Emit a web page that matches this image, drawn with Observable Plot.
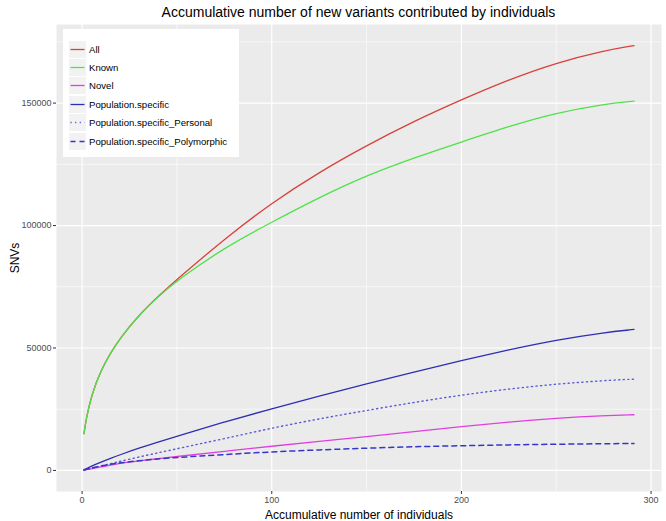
<!DOCTYPE html>
<html>
<head>
<meta charset="utf-8">
<script src="https://cdn.jsdelivr.net/npm/d3@7"></script>
<script src="https://cdn.jsdelivr.net/npm/@observablehq/plot@0.6"></script>
<style>
  body { margin: 0; background: #fff; font-family: "Liberation Sans", Arial, sans-serif; }
  #wrap { position: relative; width: 666px; height: 521px; }
  #title { position: absolute; left: 56px; width: 605px; top: 4px; text-align: center; font-size: 14px; color: #000; }
  #chart { position: absolute; left: 0; top: 24px; }
  #legend { position: absolute; left: 63px; top: 29px; width: 176px; height: 128px; background: #fff; box-sizing: border-box; padding-top: 11px; padding-left: 6px; }
  .row { height: 18.4px; display: flex; align-items: center; font-size: 9.6px; color: #000; }
  .row svg { margin-right: 3px; background: #f2f2f2; }
</style>
</head>
<body>
<div id="wrap">
  <div id="title">Accumulative number of new variants contributed by individuals</div>
  <div id="chart"></div>
  <div id="legend"></div>
</div>
<script>
const individuals    = [1, 2, 5, 10, 15, 20, 30, 40, 50, 75, 100, 125, 150, 175, 200, 225, 250, 275, 291];
const allSNV         = [15000, 20500, 31000, 41000, 48000, 54000, 63500, 71000, 78000, 94500, 109300, 121800, 132700, 142600, 151400, 159600, 166500, 171400, 173500];
const knownSNV       = [15000, 20500, 31000, 41000, 48000, 54000, 63500, 70900, 77500, 91000, 101400, 111500, 120500, 127700, 134100, 140500, 146000, 149600, 150800];
const novelSNV       = [150, 300, 700, 1400, 2200, 2900, 3900, 4800, 5700, 7800, 9900, 11900, 13800, 15900, 17900, 19800, 21300, 22400, 22750];
const popSpecific    = [300, 600, 1800, 3400, 4950, 6400, 9100, 11600, 14000, 19800, 25200, 30400, 35400, 40200, 44900, 49300, 53300, 56300, 57570];
const popPersonal    = [100, 250, 900, 1800, 2750, 3700, 5500, 7200, 8850, 13000, 17300, 21100, 24500, 27800, 30800, 33300, 35300, 36700, 37300];
const popPolymorphic = [200, 400, 1000, 1900, 2550, 3100, 4000, 4700, 5300, 6500, 7600, 8400, 9100, 9700, 10100, 10450, 10700, 10900, 11030];

const seriesNames = ["All", "Known", "Novel", "Population.specific", "Population.specific_Personal", "Population.specific_Polymorphic"];
const seriesValues = [allSNV, knownSNV, novelSNV, popSpecific, popPersonal, popPolymorphic];
const seriesColors = ["#d9413c", "#4ee24a", "#e03fe0", "#2e2eb5", "#5b5bd6", "#3636c9"];
const seriesDash = [null, null, null, null, "1.2,3.4", "5,4"];
const seriesWidth = [1.3, 1.3, 1.3, 1.3, 1.4, 1.5];

const xMajor = [0, 100, 200, 300];
const xMinor = [50, 150, 250];
const yMajor = [0, 50000, 100000, 150000];
const yMinor = [25000, 75000, 125000, 175000];

const rows = [];
seriesNames.forEach((name, si) => {
  individuals.forEach((x, i) => rows.push({series: name, x, y: seriesValues[si][i]}));
});

const lineMarks = seriesNames.map((name, si) =>
  Plot.line(rows.filter(d => d.series === name), {
    x: "x", y: "y", curve: "basis",
    stroke: seriesColors[si], strokeWidth: seriesWidth[si],
    strokeDasharray: seriesDash[si] || undefined
  })
);

const chart = Plot.plot({
  width: 666,
  height: 497,
  marginLeft: 56,
  marginRight: 5,
  marginTop: 0,
  marginBottom: 30,
  style: { fontFamily: "Liberation Sans, Arial, sans-serif", fontSize: "9px", background: "transparent" },
  x: { domain: [-13.5, 305.5] },
  y: { domain: [-8600, 182100] },
  marks: [
    Plot.frame({ fill: "#ebebeb", stroke: null }),
    Plot.gridX(xMinor, { stroke: "#fff", strokeOpacity: 1, strokeWidth: 0.6 }),
    Plot.gridY(yMinor, { stroke: "#fff", strokeOpacity: 1, strokeWidth: 0.6 }),
    Plot.gridX(xMajor, { stroke: "#fff", strokeOpacity: 1, strokeWidth: 1.2 }),
    Plot.gridY(yMajor, { stroke: "#fff", strokeOpacity: 1, strokeWidth: 1.2 }),
    ...lineMarks,
    Plot.axisX(xMajor, { tickSize: 3, tickPadding: 2, stroke: "#333", color: "#4d4d4d", fontSize: 9,
      label: "Accumulative number of individuals", labelAnchor: "center", labelArrow: "none", labelOffset: 27 }),
    Plot.axisY(yMajor, { tickSize: 3, tickPadding: 2, stroke: "#333", color: "#4d4d4d", fontSize: 9, tickFormat: d => String(d),
      label: "SNVs", labelAnchor: "center", labelArrow: "none", labelOffset: 46 })
  ]
});
document.getElementById("chart").appendChild(chart);

chart.querySelectorAll("[aria-label='x-axis label'] text, [aria-label='y-axis label'] text").forEach(t => {
  t.setAttribute("fill", "#000");
  t.style.fontSize = "12px";
});

const legend = document.getElementById("legend");
seriesNames.forEach((name, si) => {
  const row = document.createElement("div");
  row.className = "row";
  const dash = seriesDash[si] ? `stroke-dasharray="${seriesDash[si]}"` : "";
  row.innerHTML = `<svg width="17" height="17"><line x1="1.5" x2="15.5" y1="8.5" y2="8.5" stroke="${seriesColors[si]}" stroke-width="${seriesWidth[si]}" ${dash}/></svg><span>${name}</span>`;
  legend.appendChild(row);
});
</script>
</body>
</html>
